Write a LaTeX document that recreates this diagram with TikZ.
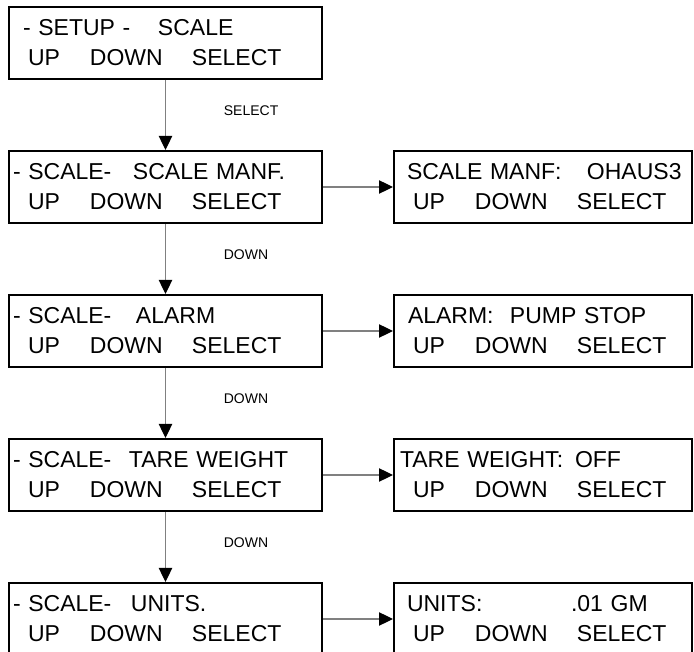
\documentclass[tikz,border=0pt]{standalone}
\usepackage{fontspec}
\setmainfont{Liberation Sans}
\usetikzlibrary{arrows.meta}
\usetikzlibrary{positioning}

% one column of the display, offset in px from the box edge
\newcommand{\lcdcol}[2]{\leavevmode\rlap{\hspace*{\dimexpr #1pt*3/4\relax}#2}}
\newcommand{\lcdkeys}{\lcdcol{19}{UP}\lcdcol{81}{DOWN}\lcdcol{183}{SELECT}}

\begin{document}
\begin{tikzpicture}[
    x=0.75pt, y=-0.75pt,
    node distance=52.5pt,
    lcd/.style={draw, line width=1.5pt, inner xsep=0pt, inner ysep=0pt,
        minimum height=54pt, align=left,
        font=\fontsize{17.25}{22.5}\selectfont},
    menubox/.style={lcd, text width=234.75pt},
    entrybox/.style={lcd, text width=223.5pt},
    flowarrow/.style={draw=gray, line width=0.9pt,
        -{Triangle[length=10.5pt, width=10pt, color=black, fill=black]}},
    keylabel/.style={font=\fontsize{10.5}{12}\selectfont, anchor=west,
        xshift=40pt, yshift=3pt},
 ]
    \useasboundingbox (0,0) rectangle (694,652);
    \clip (0,0) rectangle (694,652);

    \node[menubox] (S0) at (165.5,43) {\lcdcol{14}{- SETUP -}\lcdcol{149}{SCALE}\\\lcdkeys};
    \node[menubox, below=of S0] (S1) {\lcdcol{4}{- SCALE-}\lcdcol{124}{SCALE MANF.}\\\lcdkeys};
    \node[menubox, below=of S1] (S2) {\lcdcol{4}{- SCALE-}\lcdcol{127}{ALARM}\\\lcdkeys};
    \node[menubox, below=of S2] (S3) {\lcdcol{4}{- SCALE-}\lcdcol{120}{TARE WEIGHT}\\\lcdkeys};
    \node[menubox, below=of S3] (S4) {\lcdcol{4}{- SCALE-}\lcdcol{122}{UNITS.}\\\lcdkeys};

    \node[entrybox, right=of S1] (V1) {\lcdcol{13}{SCALE MANF:}\lcdcol{193}{OHAUS3}\\\lcdkeys};
    \node[entrybox, right=of S2] (V2) {\lcdcol{14}{ALARM:}\lcdcol{116}{PUMP STOP}\\\lcdkeys};
    \node[entrybox, right=of S3] (V3) {\lcdcol{6}{TARE WEIGHT:}\lcdcol{181}{OFF}\\\lcdkeys};
    \node[entrybox, right=of S4] (V4) {\lcdcol{13}{UNITS:}\lcdcol{177}{.01 GM}\\\lcdkeys};

    \draw[flowarrow] (S0) -- node[keylabel] (K1) {SELECT} (S1);
    \draw[flowarrow] (S1) -- node[keylabel] (K2) {DOWN} (S2);
    \draw[flowarrow] (S2) -- node[keylabel] (K3) {DOWN} (S3);
    \draw[flowarrow] (S3) -- node[keylabel] (K4) {DOWN} (S4);

    \draw[flowarrow] (S1) -- (V1);
    \draw[flowarrow] (S2) -- (V2);
    \draw[flowarrow] (S3) -- (V3);
    \draw[flowarrow] (S4) -- (V4);

\end{tikzpicture}
\end{document}
